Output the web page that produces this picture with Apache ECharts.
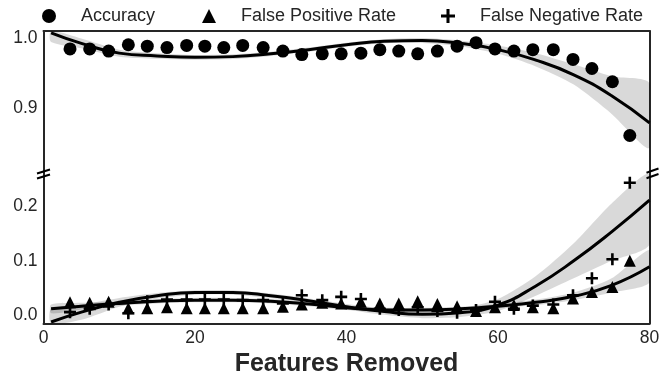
<!DOCTYPE html>
<html>
<head>
<meta charset="utf-8">
<script src="https://cdn.jsdelivr.net/npm/echarts@6/dist/echarts.min.js"></script>
<style>html,body{margin:0;padding:0;background:#fff}#c{width:671px;height:378px}</style>
</head>
<body>
<div id="c"></div>
<script>
// Features removed (x positions of the markers)
const featuresRemoved = [3.5, 6.1, 8.6, 11.2, 13.7, 16.3, 18.9, 21.3, 23.8, 26.3, 29.0, 31.6, 34.1, 36.8, 39.3, 41.9, 44.4, 46.9, 49.4, 52.0, 54.6, 57.1, 59.6, 62.1, 64.6, 67.3, 69.9, 72.4, 75.1, 77.4];
const accuracy = [0.985, 0.985, 0.982, 0.991, 0.989, 0.987, 0.990, 0.989, 0.987, 0.990, 0.987, 0.982, 0.977, 0.978, 0.978, 0.979, 0.984, 0.982, 0.978, 0.982, 0.989, 0.994, 0.985, 0.982, 0.984, 0.984, 0.970, 0.957, 0.938, 0.861];
const falsePositiveRate = [0.024, 0.023, 0.025, 0.013, 0.013, 0.015, 0.013, 0.013, 0.013, 0.013, 0.013, 0.016, 0.020, 0.023, 0.022, 0.025, 0.022, 0.022, 0.026, 0.021, 0.017, 0.008, 0.015, 0.019, 0.015, 0.013, 0.031, 0.043, 0.052, 0.100];
const falseNegativeRate = [0.006, 0.012, 0.020, 0.004, 0.026, 0.029, 0.029, 0.029, 0.029, 0.028, 0.028, 0.022, 0.037, 0.028, 0.034, 0.030, 0.012, 0.010, 0.015, 0.008, 0.005, 0.010, 0.025, 0.012, 0.018, 0.020, 0.037, 0.068, 0.103, 0.243];

// Fitted trend lines and confidence bands
const fitX   = [1, 5, 10, 15, 20, 25, 30, 35, 40, 45, 50, 55, 60, 65, 70, 75, 80];
const accFit = [1.008, 0.993, 0.979, 0.975, 0.973, 0.974, 0.978, 0.984, 0.991, 0.996, 0.997, 0.993, 0.984, 0.969, 0.948, 0.918, 0.879];
const accLo  = [0.995, 0.986, 0.974, 0.971, 0.9695, 0.9705, 0.975, 0.981, 0.988, 0.993, 0.9935, 0.989, 0.978, 0.960, 0.934, 0.892, 0.843];
const accHi  = [1.021, 1.000, 0.984, 0.979, 0.9765, 0.9775, 0.981, 0.987, 0.994, 0.999, 1.0005, 0.997, 0.990, 0.979, 0.963, 0.946, 0.936];
const fprFit = [0.012, 0.017, 0.022, 0.026, 0.028, 0.028, 0.026, 0.021, 0.014, 0.010, 0.010, 0.012, 0.017, 0.024, 0.035, 0.055, 0.089];
const fprLo  = [0.004, 0.011, 0.018, 0.022, 0.024, 0.024, 0.022, 0.017, 0.010, 0.006, 0.006, 0.008, 0.013, 0.019, 0.028, 0.042, 0.060];
const fprHi  = [0.020, 0.023, 0.026, 0.030, 0.032, 0.032, 0.030, 0.025, 0.018, 0.014, 0.014, 0.016, 0.021, 0.029, 0.042, 0.068, 0.120];
const fnrFit = [-0.012, 0.006, 0.024, 0.036, 0.042, 0.042, 0.036, 0.027, 0.016, 0.007, 0.002, 0.005, 0.019, 0.054, 0.100, 0.153, 0.211];
const fnrLo  = [-0.035, -0.008, 0.016, 0.031, 0.038, 0.038, 0.032, 0.023, 0.011, 0.001, -0.005, -0.003, 0.008, 0.036, 0.068, 0.100, 0.130];
const fnrHi  = [0.012, 0.020, 0.032, 0.041, 0.046, 0.046, 0.040, 0.031, 0.021, 0.013, 0.009, 0.013, 0.030, 0.072, 0.132, 0.205, 0.290];

const topTicks = [0.9, 1.0];
const bottomTicks = [0.0, 0.1, 0.2];
const xTicks = [0, 20, 40, 60, 80];

const FONT = "'Liberation Sans', Arial, sans-serif";
const INK = '#262626';
const PLUS = 'path://M0,4.7H12V7.3H0Z M4.7,0H7.3V12H4.7Z';
const zip = (a, b) => a.map((v, i) => [v, b[i]]);

function band(lo, hi, xi, yi) {
  return {
    type: 'custom', xAxisIndex: xi, yAxisIndex: yi, clip: true, silent: true, z: 1,
    data: fitX.map((x, i) => [x, lo[i], hi[i]]),
    encode: { x: 0, y: [1, 2] },
    renderItem: (params, api) => {
      if (params.dataIndex !== 0) return null;
      const cs = params.coordSys;
      const clampY = p => [p[0], Math.max(cs.y, Math.min(cs.y + cs.height, p[1]))];
      const top = fitX.map((x, i) => clampY(api.coord([x, hi[i]])));
      const bot = fitX.map((x, i) => clampY(api.coord([x, lo[i]]))).reverse();
      return {
        type: 'polygon',
        shape: { points: top.concat(bot), smooth: 0.25 },
        style: { fill: 'rgba(0,0,0,0.15)' }
      };
    }
  };
}
function fit(data, xi, yi) {
  return { type: 'line', xAxisIndex: xi, yAxisIndex: yi, data: zip(fitX, data), smooth: true,
    showSymbol: false, symbol: 'none', lineStyle: { color: '#000', width: 3 }, silent: true, z: 4 };
}
function scatter(name, vals, sym, size, xi, yi) {
  return { type: 'scatter', name: name, xAxisIndex: xi, yAxisIndex: yi, data: zip(featuresRemoved, vals),
    symbol: sym, symbolSize: size, symbolKeepAspect: true, itemStyle: { color: '#000', opacity: 1 }, z: 3 };
}
function legend(name, iconCenter) {
  return { data: [name], left: iconCenter - 7, top: 7, itemWidth: 14, itemHeight: 14, padding: 0,
    textStyle: { fontFamily: FONT, fontSize: 18, color: INK, padding: [0, 0, 0, 20] }, selectedMode: false };
}
const axisLine = { show: true, onZero: false, lineStyle: { color: INK, width: 2 } };
const yLabel = (vals) => ({ customValues: vals, formatter: v => Number(v).toFixed(1),
  fontFamily: FONT, fontSize: 17.5, color: INK, margin: 6 });

const chart = echarts.init(document.getElementById('c'), null, { renderer: 'canvas' });
chart.setOption({
  animation: false,
  backgroundColor: '#fff',
  legend: [legend('Accuracy', 49), legend('False Positive Rate', 209), legend('False Negative Rate', 448)],
  grid: [
    { left: 43.5, top: 31, width: 606, height: 143 },
    { left: 43.5, top: 174, width: 606, height: 149.5 }
  ],
  xAxis: [
    { type: 'value', gridIndex: 0, min: 0, max: 80, position: 'top', axisLine: axisLine,
      axisTick: { show: false }, axisLabel: { show: false }, splitLine: { show: false } },
    { type: 'value', gridIndex: 1, min: 0, max: 80, interval: 20, position: 'bottom', axisLine: axisLine,
      axisTick: { show: false }, splitLine: { show: false },
      axisLabel: { customValues: xTicks, fontFamily: FONT, fontSize: 17.5, color: INK, margin: 6 },
      name: 'Features Removed', nameLocation: 'middle', nameGap: 28,
      nameTextStyle: { fontFamily: FONT, fontSize: 25, fontWeight: 'bold', color: INK } }
  ],
  yAxis: [
    { type: 'value', gridIndex: 0, min: 0.8059, max: 1.0107, position: 'left', axisLine: axisLine,
      axisTick: { show: false }, splitLine: { show: false }, axisLabel: yLabel(topTicks) },
    { type: 'value', gridIndex: 0, min: 0.8059, max: 1.0107, position: 'right', axisLine: axisLine,
      axisTick: { show: false }, splitLine: { show: false }, axisLabel: { show: false } },
    { type: 'value', gridIndex: 1, min: -0.0148, max: 0.259, position: 'left', axisLine: axisLine,
      axisTick: { show: false }, splitLine: { show: false }, axisLabel: yLabel(bottomTicks) },
    { type: 'value', gridIndex: 1, min: -0.0148, max: 0.259, position: 'right', axisLine: axisLine,
      axisTick: { show: false }, splitLine: { show: false }, axisLabel: { show: false } }
  ],
  series: [
    band(accLo, accHi, 0, 0),
    band(fprLo, fprHi, 1, 2),
    band(fnrLo, fnrHi, 1, 2),
    scatter('Accuracy', accuracy, 'circle', 13, 0, 0),
    scatter('False Positive Rate', falsePositiveRate, 'triangle', 12, 1, 2),
    scatter('False Negative Rate', falseNegativeRate, PLUS, 12, 1, 2),
    fit(accFit, 0, 0),
    fit(fprFit, 1, 2),
    fit(fnrFit, 1, 2)
  ],
  graphic: [
    { type: 'line', shape: { x1: 37, y1: 173.5, x2: 50, y2: 169.5 }, style: { stroke: '#000', lineWidth: 2 }, z: 10 },
    { type: 'line', shape: { x1: 37, y1: 178.5, x2: 50, y2: 174.5 }, style: { stroke: '#000', lineWidth: 2 }, z: 10 },
    { type: 'line', shape: { x1: 646.5, y1: 172.7, x2: 658.5, y2: 168.5 }, style: { stroke: '#000', lineWidth: 2 }, z: 10 },
    { type: 'line', shape: { x1: 646.5, y1: 178.3, x2: 658.5, y2: 174 }, style: { stroke: '#000', lineWidth: 2 }, z: 10 }
  ]
});
</script>
</body>
</html>
